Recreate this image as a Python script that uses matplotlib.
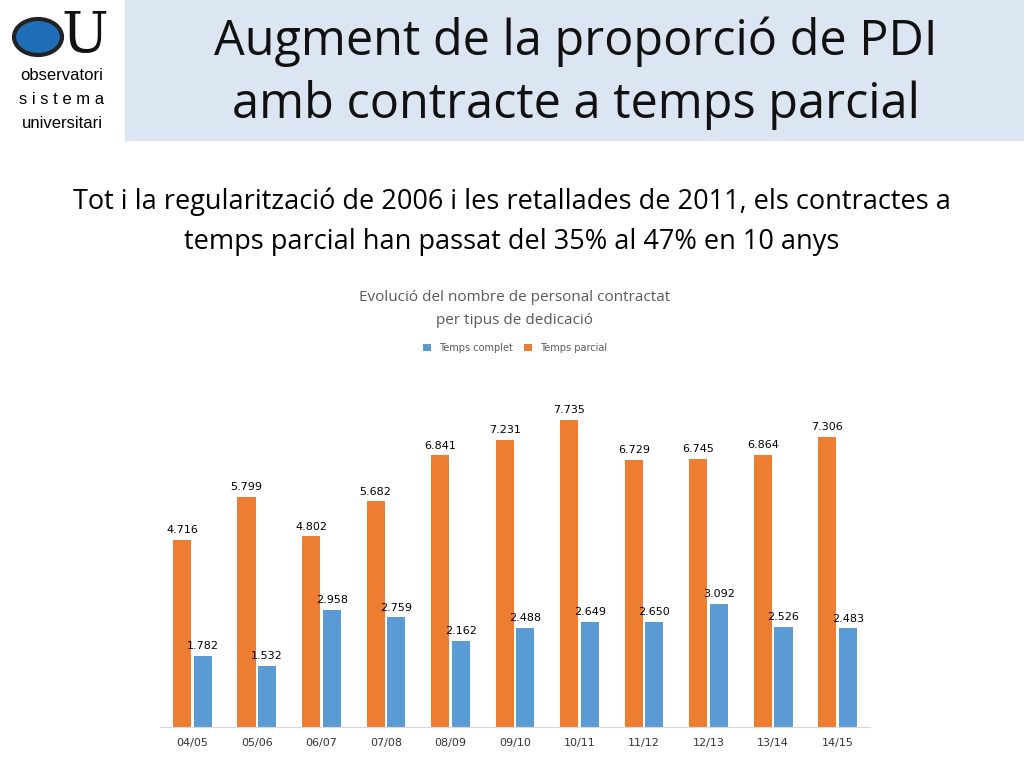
import matplotlib.pyplot as plt
import numpy as np
from matplotlib.patches import Rectangle, Circle

years = ["04/05", "05/06", "06/07", "07/08", "08/09", "09/10", "10/11", "11/12", "12/13", "13/14", "14/15"]
complet = [1782, 1532, 2958, 2759, 2162, 2488, 2649, 2650, 3092, 2526, 2483]
parcial = [4716, 5799, 4802, 5682, 6841, 7231, 7735, 6729, 6745, 6864, 7306]

orange = "#ed7d31"
blue = "#5b9bd5"


def fmt(v):
    return f"{v:,}".replace(",", ".")


fig = plt.figure(figsize=(10.24, 7.68), dpi=100)

# header band
fig.patches.append(Rectangle((125 / 1024, 1 - 140 / 768), 899 / 1024, 140 / 768,
                             transform=fig.transFigure, color="#dce6f2", zorder=0))
fig.text(0.562, 1 - 42 / 768, "Augment de la proporció de PDI", ha="center", va="center",
         fontsize=35, family="Open Sans", color="#111111")
fig.text(0.562, 1 - 105 / 768, "amb contracte a temps parcial", ha="center", va="center",
         fontsize=35, family="Open Sans", color="#111111")

# logo
fig.patches.append(Circle((38 / 1024, 1 - 37 / 768), 24 / 1024, transform=fig.transFigure,
                          facecolor="#1f6fb8", edgecolor="#222222", lw=3))
fig.text(85 / 1024, 1 - 37 / 768, "U", ha="center", va="center", fontsize=40,
         family="DejaVu Serif", color="#111111")
fig.text(62 / 1024, 1 - 76 / 768, "observatori", ha="center", va="center", fontsize=12, family="Liberation Sans")
fig.text(62 / 1024, 1 - 100 / 768, "s i s t e m a", ha="center", va="center", fontsize=12, family="Liberation Sans")
fig.text(62 / 1024, 1 - 124 / 768, "universitari", ha="center", va="center", fontsize=12, family="Liberation Sans")

fig.text(0.5, 1 - 202 / 768, "Tot i la regularització de 2006 i les retallades de 2011, els contractes a",
         ha="center", va="center", fontsize=19.5, family="Open Sans")
fig.text(0.5, 1 - 242 / 768, "temps parcial han passat del 35% al 47% en 10 anys",
         ha="center", va="center", fontsize=19.5, family="Open Sans")

fig.text(515 / 1024, 1 - 298 / 768, "Evolució del nombre de personal contractat", ha="center", va="center",
         fontsize=11, color="#595959", family="Open Sans")
fig.text(515 / 1024, 1 - 321 / 768, "per tipus de dedicació", ha="center", va="center",
         fontsize=11, color="#595959", family="Open Sans")

ax = fig.add_axes([160 / 1024, 41 / 768, 710 / 1024, 327 / 768])
x = np.arange(len(years))
w = 0.28
b1 = ax.bar(x - 0.16, parcial, w, color=orange, label="Temps parcial")
b2 = ax.bar(x + 0.16, complet, w, color=blue, label="Temps complet")
for xi, v in zip(x, parcial):
    ax.text(xi - 0.16, v + 120, fmt(v), ha="center", va="bottom", fontsize=8)
for xi, v in zip(x, complet):
    ax.text(xi + 0.16, v + 120, fmt(v), ha="center", va="bottom", fontsize=8)
ax.set_xlim(-0.5, len(years) - 0.5)
ax.set_ylim(0, 8237)
ax.set_xticks(x)
ax.set_xticklabels(years, fontsize=8, color="#333333")
ax.set_yticks([])
for s in ["top", "left", "right"]:
    ax.spines[s].set_visible(False)
ax.spines["bottom"].set_color("#d9d9d9")
ax.tick_params(axis="x", length=0, pad=8)

ax.legend(handles=[b2, b1], loc="center", bbox_to_anchor=(515 / 1024, 1 - 348 / 768),
          bbox_transform=fig.transFigure, ncol=2, frameon=False, fontsize=7,
          handlelength=0.8, handleheight=0.8, columnspacing=1.2, labelcolor="#595959")

fig.savefig("out.png", dpi=100)
